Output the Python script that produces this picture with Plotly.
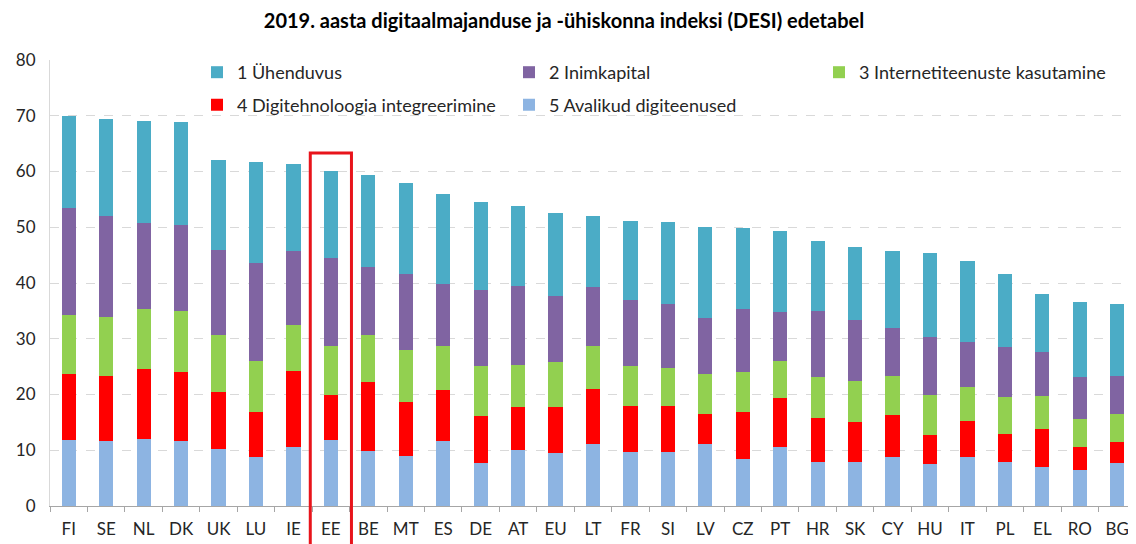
import plotly.graph_objects as go

countries = ["FI", "SE", "NL", "DK", "UK", "LU", "IE", "EE", "BE", "MT", "ES", "DE", "AT", "EU",
             "LT", "FR", "SI", "LV", "CZ", "PT", "HR", "SK", "CY", "HU", "IT", "PL", "EL", "RO", "BG"]

s5_avalikud = [11.8, 11.7, 11.95, 11.7, 10.2, 8.85, 10.5, 11.8, 9.9, 9.0, 11.7, 7.8, 10.0, 9.45,
               11.05, 9.75, 9.75, 11.05, 8.45, 10.65, 7.85, 7.85, 8.85, 7.55, 8.85, 7.85, 7.05, 6.45, 7.65]
s4_digitehno = [11.8, 11.6, 12.55, 12.4, 10.3, 7.95, 13.8, 8.05, 12.4, 9.7, 9.1, 8.3, 7.7, 8.25,
                9.9, 8.2, 8.2, 5.4, 8.35, 8.8, 7.9, 7.3, 7.45, 5.1, 6.4, 5.0, 6.7, 4.2, 3.9]
s3_internet = [10.65, 10.65, 10.9, 10.9, 10.2, 9.2, 8.1, 8.9, 8.3, 9.3, 7.9, 9.1, 7.6, 8.1,
               7.8, 7.25, 6.75, 7.15, 7.3, 6.55, 7.45, 7.2, 7.1, 7.3, 6.15, 6.65, 5.95, 4.9, 4.9]
s2_inimkapital = [19.25, 18.05, 15.4, 15.4, 15.2, 17.5, 13.3, 15.65, 12.2, 13.6, 11.1, 13.5, 14.15, 11.85,
                  10.55, 11.8, 11.5, 10.05, 11.2, 8.75, 11.85, 10.95, 8.45, 10.35, 8.05, 9.1, 7.95, 7.55, 6.85]
s1_yhenduvus = [16.5, 17.5, 18.2, 18.4, 16.1, 18.2, 15.6, 15.7, 16.55, 16.4, 16.25, 15.85, 14.4, 14.85,
                12.75, 14.05, 14.8, 16.45, 14.6, 14.55, 12.4, 13.15, 13.85, 15.05, 14.45, 13.0, 10.35, 13.45, 12.9]

names = ["1 Ühenduvus", "2 Inimkapital", "3 Internetiteenuste kasutamine",
         "4 Digitehnoloogia integreerimine", "5 Avalikud digiteenused"]
colors = ["#4BACC6", "#8064A2", "#92D050", "#FF0000", "#8DB4E2"]
series = [s1_yhenduvus, s2_inimkapital, s3_internet, s4_digitehno, s5_avalikud]
title_text = "2019. aasta digitaalmajanduse ja -ühiskonna indeksi (DESI) edetabel"
highlight = "EE"

FONT = "Lato, Liberation Sans, sans-serif"

# page has an 8px body margin; figure is sized to fill the rest of the window
W, H = 1128, 536
ML, MR, MT, MB = 42, 0, 52, 38
PW, PH = W - ML - MR, H - MT - MB

fig = go.Figure()
legend_ids = ["legend", "legend2", "legend3", "legend4", "legend5"]
# stack from bottom: series 5 first
for i in [4, 3, 2, 1, 0]:
    fig.add_trace(go.Bar(
        x=countries, y=series[i], name=names[i],
        marker=dict(color=colors[i], line=dict(width=0)),
        legend=legend_ids[i], hoverinfo="x+y+name",
    ))

# legend entry left edges / row centres (figure px)
leg_pos = [(189, 64.5), (501, 64.5), (811, 64.5), (189, 97.0), (501, 97.0)]
leg_layout = {}
for lid, (px, py) in zip(legend_ids, leg_pos):
    leg_layout[lid] = dict(
        xref="paper", yref="paper", x=(px - ML) / PW, y=(H - MB - py) / PH,
        xanchor="left", yanchor="middle", bgcolor="rgba(0,0,0,0)",
        font=dict(family=FONT, size=18, color="#262626"), itemwidth=30,
        borderwidth=0,
    )

idx = countries.index(highlight)
fig.add_shape(type="rect", xref="x", yref="paper",
              x0=idx - 0.55, x1=idx + 0.55, y0=-0.12, y1=63.3 / 80,
              line=dict(color="#E8141B", width=3), fillcolor="rgba(0,0,0,0)", layer="above")

fig.update_layout(
    width=W, height=H,
    margin=dict(l=ML, r=MR, t=MT, b=MB, autoexpand=False),
    paper_bgcolor="white", plot_bgcolor="white",
    barmode="stack", bargap=0.62,
    title=dict(text="<b>" + title_text + "</b>", xref="container", yref="container",
               x=556 / W, y=1 - 13 / H, xanchor="center", yanchor="middle",
               font=dict(family=FONT, size=20, color="#000000")),
    font=dict(family=FONT, size=17, color="#262626"),
    xaxis=dict(showgrid=False, showline=True, linecolor="#A6A6A6", linewidth=1,
               ticks="outside", tickson="boundaries", ticklen=5, tickcolor="#A6A6A6",
               tickfont=dict(family=FONT, size=17, color="#262626"), tickangle=0,
               ticklabelstandoff=8, automargin=False),
    yaxis=dict(range=[0, 80], dtick=10, showgrid=True, gridcolor="#D9D9D9", griddash="dash",
               gridwidth=1, showline=True, linecolor="#D9D9D9", zeroline=False,
               ticks="", tickfont=dict(family=FONT, size=17, color="#262626"),
               ticklabelstandoff=10, automargin=False),
    showlegend=True,
    **leg_layout,
)

fig.write_html("out.html")
